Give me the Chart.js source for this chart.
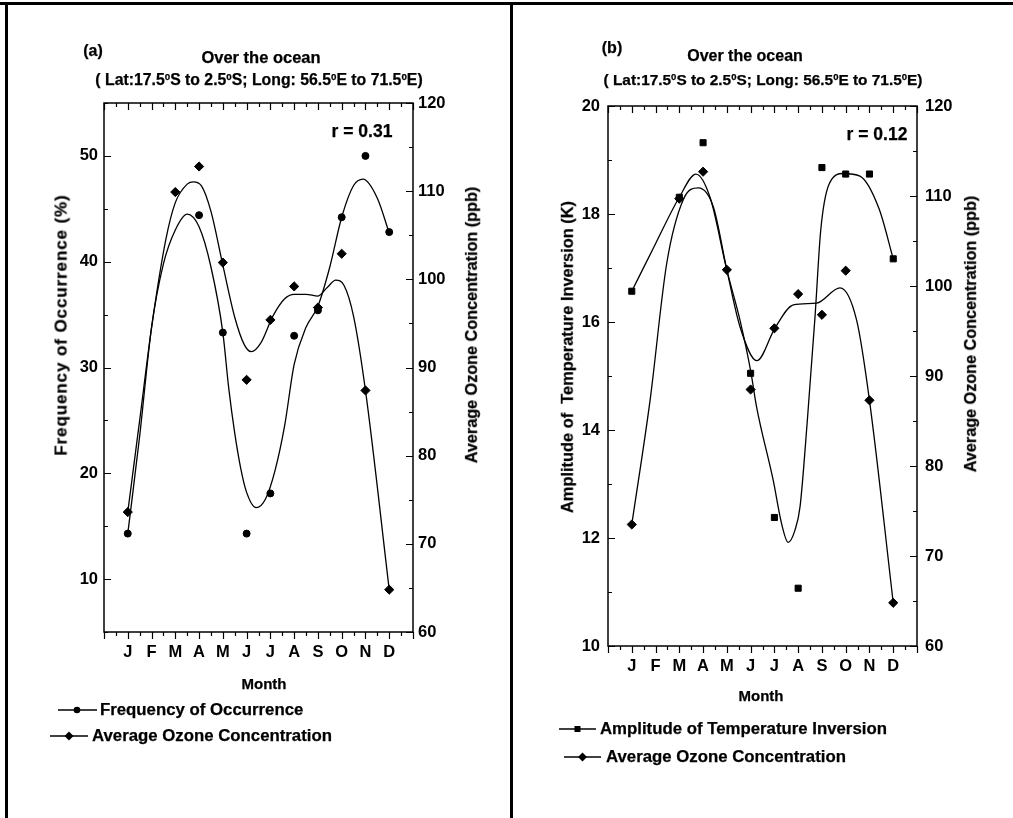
<!DOCTYPE html>
<html>
<head>
<meta charset="utf-8">
<script src="https://cdn.jsdelivr.net/npm/chart.js@4.4.0/dist/chart.umd.min.js"></script>
<style>
body{margin:0;background:#fff;}
#wrap{position:relative;width:1013px;height:818px;overflow:hidden;font-family:"Liberation Sans",Arial,sans-serif;font-weight:bold;color:#000;}
canvas{position:absolute;top:0;}
.ln{position:absolute;background:#000;z-index:5;}
.t,.tl{-webkit-text-stroke:0.25px #000;}
.t{position:absolute;white-space:nowrap;line-height:1;transform:translate(-50%,-50%);}
.tl{position:absolute;white-space:nowrap;line-height:1;transform:translateY(-50%);}
.rot{transform:translate(-50%,-50%) rotate(-90deg);}
sup{font-size:62%;vertical-align:0;position:relative;top:-0.55em;}
svg{position:absolute;}
</style>
</head>
<body>
<div id="wrap">
  <canvas id="ca" width="510" height="818" style="left:0"></canvas>
  <canvas id="cb" width="503" height="818" style="left:510px"></canvas>

  <div class="ln" style="left:0;top:2px;width:1013px;height:3px"></div>
  <div class="ln" style="left:5px;top:2px;width:3px;height:816px"></div>
  <div class="ln" style="left:510px;top:2px;width:3px;height:816px"></div>

  <!-- panel (a) texts -->
  <div class="t" style="left:93px;top:51px;font-size:16px">(a)</div>
  <div class="t" style="left:261px;top:57px;font-size:16.5px">Over the ocean</div>
  <div class="t" style="left:259px;top:80px;font-size:15.8px">( Lat:17.5<sup>0</sup>S to 2.5<sup>0</sup>S; Long: 56.5<sup>0</sup>E to 71.5<sup>0</sup>E)</div>
  <div class="t" style="left:362px;top:132px;font-size:17.5px">r = 0.31</div>
  <div class="t rot" style="left:61px;top:325px;font-size:17px;letter-spacing:0.9px">Frequency of Occurrence (%)</div>
  <div class="t rot" style="left:471px;top:325px;font-size:16.2px">Average Ozone Concentration (ppb)</div>
  <div class="t" style="left:264px;top:683px;font-size:15px">Month</div>

  <svg style="left:56px;top:702px" width="44" height="16"><line x1="2" y1="8" x2="41" y2="8" stroke="#000" stroke-width="1.5"/><circle cx="21" cy="8" r="3.3" fill="#000"/></svg>
  <div class="tl" style="left:100px;top:710px;font-size:16.8px">Frequency of Occurrence</div>
  <svg style="left:48px;top:728px" width="44" height="16"><line x1="2" y1="8" x2="40" y2="8" stroke="#000" stroke-width="1.5"/><polygon points="21,3.5 25.5,8 21,12.5 16.5,8" fill="#000"/></svg>
  <div class="tl" style="left:92px;top:736px;font-size:16.8px">Average Ozone Concentration</div>

  <!-- panel (b) texts -->
  <div class="t" style="left:612px;top:48px;font-size:16px">(b)</div>
  <div class="t" style="left:745px;top:56px;font-size:16px">Over the ocean</div>
  <div class="t" style="left:763px;top:80px;font-size:15.4px">( Lat:17.5<sup>0</sup>S to 2.5<sup>0</sup>S; Long: 56.5<sup>0</sup>E to 71.5<sup>0</sup>E)</div>
  <div class="t" style="left:877px;top:135px;font-size:17.5px">r = 0.12</div>
  <div class="t rot" style="left:567px;top:357px;font-size:16.4px;white-space:pre">Amplitude of  Temperature Inversion (K)</div>
  <div class="t rot" style="left:970px;top:334px;font-size:16.2px">Average Ozone Concentration (ppb)</div>
  <div class="t" style="left:761px;top:695px;font-size:15px">Month</div>

  <svg style="left:557px;top:721px" width="44" height="16"><line x1="2" y1="8" x2="39" y2="8" stroke="#000" stroke-width="1.5"/><rect x="17.5" y="5" width="6" height="6" fill="#000"/></svg>
  <div class="tl" style="left:600px;top:729px;font-size:16.8px">Amplitude of Temperature Inversion</div>
  <svg style="left:562px;top:749px" width="44" height="16"><line x1="2" y1="8" x2="39" y2="8" stroke="#000" stroke-width="1.5"/><polygon points="20.5,3.5 25,8 20.5,12.5 16,8" fill="#000"/></svg>
  <div class="tl" style="left:606px;top:757px;font-size:16.8px">Average Ozone Concentration</div>
</div>

<script>
var months = ["J","F","M","A","M","J","J","A","S","O","N","D"];
var monthPos = [1,2,3,4,5,6,7,8,9,10,11,12];

// (a) measured points
var freqA  = [14.3, null, null, 44.4, 33.3, 14.3, 18.1, 33.0, 35.4, 44.2, 50.0, 42.8];
var ozoneA = [73.6, null, 109.9, 112.8, 101.9, 88.6, 95.4, 99.2, 96.8, 102.9, 87.4, 64.8];

// (a) fitted curves
var freqFitX = [1, 1.5, 2, 2.5, 3, 3.5, 4, 4.5, 5, 5.25, 5.5, 5.75, 6, 6.4, 6.8, 7.2, 7.6, 8, 8.5, 9, 9.5, 10, 10.5, 10.9, 11.5, 12];
var freqFitY = [14.3, 23.5, 33.8, 39.8, 43.0, 44.5, 43.3, 39.5, 33.3, 28.0, 23.8, 20.5, 18.2, 16.75, 17.6, 20.3, 24.5, 30.3, 33.8, 35.8, 39.5, 44.2, 47.2, 47.8, 46.0, 42.7];
var ozoneFitAX = [1, 1.5, 2, 2.6, 3, 3.5, 3.76, 4.1, 4.5, 5, 5.5, 5.9, 6.2, 6.6, 7.1, 7.6, 8, 8.5, 9, 9.4, 9.75, 10.1, 10.5, 11, 12];
var ozoneFitAY = [73.6, 84.0, 94.5, 104.5, 108.7, 110.8, 111.05, 110.6, 107.7, 101.6, 95.7, 92.6, 91.8, 92.8, 95.8, 97.8, 98.3, 98.3, 98.1, 99.1, 99.9, 99.3, 95.8, 87.4, 64.8];

// (b) measured points
var tempB  = [16.57, null, 18.31, 19.32, null, 15.05, 12.38, 11.07, 18.86, 18.74, 18.74, 17.17];
var ozoneB = [73.5, null, 109.7, 112.7, 101.8, 88.5, 95.3, 99.1, 96.8, 101.7, 87.3, 64.8];

// (b) fitted curves
var tempFitX = [1, 2, 3, 3.7, 4.3, 5, 5.55, 6, 6.25, 6.95, 7.3, 7.58, 7.87, 8.08, 8.39, 8.71, 8.95, 9.3, 9.9, 10.6, 11.4, 12];
var tempFitY = [16.57, 17.45, 18.31, 18.74, 18.3, 16.96, 16.04, 15.1, 14.43, 13.07, 12.27, 11.92, 12.15, 12.58, 14.2, 16.1, 17.7, 18.55, 18.75, 18.7, 18.1, 17.17];
var ozoneFitBX = [1, 1.77, 2.47, 3.17, 3.8, 4.43, 5, 5.55, 6.26, 7.02, 7.8, 8.78, 9.76, 10.46, 11, 12];
var ozoneFitBY = [73.5, 87.3, 102.5, 109.6, 110.9, 108.8, 101.8, 95.5, 91.7, 95.3, 97.9, 98.1, 99.8, 96.2, 87.3, 64.8];

Chart.defaults.font.family = "'Liberation Sans', Arial, sans-serif";
Chart.defaults.font.weight = "bold";
Chart.defaults.font.size = 16.5;
Chart.defaults.color = "#000";

function pts(xs, ys){
  var out = [];
  for (var i=0;i<xs.length;i++){ if (ys[i] !== null) out.push({x:xs[i], y:ys[i]}); }
  return out;
}

// frame + inward/outward tick marks like the original plot
var frameTicks = {
  id:"frameTicks",
  afterDraw:function(chart){
    var ctx = chart.ctx, a = chart.chartArea;
    var sx = chart.scales.x, sy = chart.scales.y, sy2 = chart.scales.y2;
    ctx.save();
    ctx.strokeStyle = "#000";
    ctx.lineWidth = 1.5;
    ctx.strokeRect(a.left, a.top, a.right-a.left, a.bottom-a.top);
    ctx.beginPath();
    for (var k=0;k<=26;k++){
      var px = Math.round(sx.getPixelForValue(k/2))+0.5;
      var len = (k%2===0) ? 7 : 4;
      ctx.moveTo(px, a.bottom); ctx.lineTo(px, a.bottom+len);
      ctx.moveTo(px, a.top); ctx.lineTo(px, a.top+len);
    }
    sy.ticks.forEach(function(t){
      var py = Math.round(sy.getPixelForValue(t.value))+0.5;
      ctx.moveTo(a.left, py); ctx.lineTo(a.left+(t.label!=="" ? 7 : 4), py);
    });
    sy2.ticks.forEach(function(t){
      var py = Math.round(sy2.getPixelForValue(t.value))+0.5;
      ctx.moveTo(a.right, py); ctx.lineTo(a.right-(t.label!=="" ? 7 : 4), py);
    });
    ctx.lineWidth = 1.2;
    ctx.stroke();
    ctx.restore();
  }
};

function makePanel(id, c){
  var fit = {borderColor:"#000", borderWidth:1.3, pointRadius:0, fill:false, cubicInterpolationMode:"monotone"};
  var mk = {showLine:false, pointBackgroundColor:"#000", pointBorderColor:"#000", pointBorderWidth:1};
  return new Chart(document.getElementById(id), {
    type:"line",
    data:{datasets:[
      Object.assign({data:pts(c.fit1x, c.fit1y), yAxisID:"y"}, fit),
      Object.assign({data:pts(c.fit2x, c.fit2y), yAxisID:"y2"}, fit),
      Object.assign({data:pts(monthPos, c.s1), yAxisID:"y", pointStyle:c.style1, pointRadius:c.r1}, mk),
      Object.assign({data:pts(monthPos, c.s2), yAxisID:"y2", pointStyle:"rectRot", pointRadius:4.6}, mk)
    ]},
    options:{
      responsive:false, animation:false, events:[],
      layout:{padding:c.pad},
      plugins:{legend:{display:false}, tooltip:{enabled:false}},
      scales:{
        x:{type:"linear", min:0, max:13,
           afterFit:function(s){ s.height = 60; },
           grid:{display:false, drawTicks:false}, border:{display:false},
           ticks:{stepSize:1, autoSkip:false, maxRotation:0, padding:11,
                  callback:function(v){ return months[v-1] || ""; }}},
        y:{position:"left", min:c.yMin, max:c.yMax,
           afterFit:function(s){ s.width = 60; },
           grid:{display:false, drawTicks:false}, border:{display:false},
           ticks:{stepSize:c.yStep, autoSkip:false, padding:c.padL,
                  callback:function(v){ return v % c.yMajor === 0 ? v : ""; }}},
        y2:{position:"right", min:60, max:120,
           afterFit:function(s){ s.width = 60; },
           grid:{display:false, drawTicks:false}, border:{display:false},
           ticks:{stepSize:5, autoSkip:false, padding:c.padR,
                  callback:function(v){ return v % 10 === 0 ? v : ""; }}}
      }
    },
    plugins:[frameTicks]
  });
}

makePanel("ca", {
  fit1x:freqFitX, fit1y:freqFitY, fit2x:ozoneFitAX, fit2y:ozoneFitAY,
  s1:freqA, s2:ozoneA, style1:"circle", r1:3.5,
  yMin:5, yMax:55, yStep:5, yMajor:10,
  pad:{left:44, right:37, top:103, bottom:126}, padL:6, padR:5
});

makePanel("cb", {
  fit1x:tempFitX, fit1y:tempFitY, fit2x:ozoneFitBX, fit2y:ozoneFitBY,
  s1:tempB, s2:ozoneB, style1:"rect", r1:4.3,
  yMin:10, yMax:20, yStep:1, yMajor:2,
  pad:{left:38, right:36, top:106, bottom:112}, padL:8, padR:8
});
</script>
</body>
</html>
